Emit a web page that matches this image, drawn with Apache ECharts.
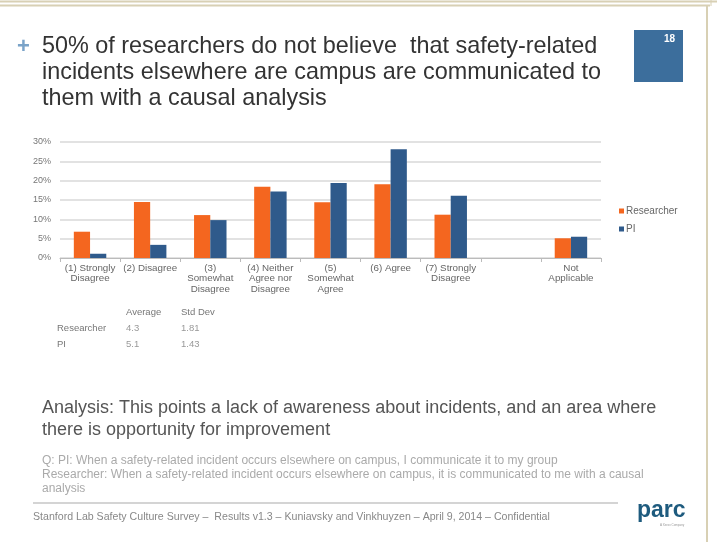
<!DOCTYPE html>
<html><head><meta charset="utf-8">
<script src="https://cdn.jsdelivr.net/npm/echarts@6/dist/echarts.min.js"></script>
<style>html,body{margin:0;padding:0;background:#fff;}#c{width:717px;height:542px;}</style>
</head><body><div id="c"></div>
<script>
var categories = ["(1) Strongly\nDisagree", "(2) Disagree", "(3)\nSomewhat\nDisagree", "(4) Neither\nAgree nor\nDisagree", "(5)\nSomewhat\nAgree", "(6) Agree", "(7) Strongly\nDisagree", "", "Not\nApplicable"];
var researcher = [6.8, 14.5, 11.1, 18.4, 14.4, 19.1, 11.2, null, 5.1];
var pi = [1.1, 3.4, 9.8, 17.2, 19.4, 28.1, 16.1, null, 5.5];
var yTicks = [0, 5, 10, 15, 20, 25, 30];
var statsHeader = ["Average", "Std Dev"];
var statsRows = [["Researcher", "4.3", "1.81"], ["PI", "5.1", "1.43"]];

var chart = echarts.init(document.getElementById('c'));
var font = 'Liberation Sans, Arial, sans-serif';
var gfx = [
  {type:'line', shape:{x1:0,y1:1.5,x2:717,y2:1.5}, style:{stroke:'#d8d0b4', lineWidth:2}},
  {type:'line', shape:{x1:0,y1:5.5,x2:710,y2:5.5}, style:{stroke:'#d8d0b4', lineWidth:2}},
  {type:'line', shape:{x1:707,y1:5,x2:707,y2:542}, style:{stroke:'#d8d0b4', lineWidth:2}},
  {type:'line', shape:{x1:711,y1:0,x2:711,y2:6}, style:{stroke:'#d8d0b4', lineWidth:1}},
  {type:'text', left:17, top:36, style:{text:'+', font:'bold 22px '+font, fill:'#7aa3c8'}},
  {type:'text', left:42, top:34, style:{text:'50% of researchers do not believe  that safety-related\nincidents elsewhere are campus are communicated to\nthem with a causal analysis', font:'23.4px '+font, lineHeight:26, fill:'#333'}},
  {type:'rect', shape:{x:634,y:30,width:49,height:52}, style:{fill:'#3c6e9c'}},
  {type:'text', left:664, top:34, style:{text:'18', font:'bold 10px '+font, fill:'#fff'}},
  {type:'text', left:126, top:307, style:{text:statsHeader[0], font:'9.5px '+font, fill:'#777'}},
  {type:'text', left:181, top:307, style:{text:statsHeader[1], font:'9.5px '+font, fill:'#777'}},
  {type:'text', left:42, top:397, style:{text:'Analysis: This points a lack of awareness about incidents, and an area where\nthere is opportunity for improvement', font:'18px '+font, lineHeight:22, fill:'#555'}},
  {type:'text', left:42, top:454, style:{text:'Q: PI: When a safety-related incident occurs elsewhere on campus, I communicate it to my group\nResearcher: When a safety-related incident occurs elsewhere on campus, it is communicated to me with a causal\nanalysis', font:'12px '+font, lineHeight:14, fill:'#aaa'}},
  {type:'line', shape:{x1:33,y1:503,x2:618,y2:503}, style:{stroke:'#aaa', lineWidth:1.2}},
  {type:'text', left:33, top:512, style:{text:'Stanford Lab Safety Culture Survey \u2013  Results v1.3 \u2013 Kuniavsky and Vinkhuyzen \u2013 April 9, 2014 \u2013 Confidential', font:'10.6px '+font, fill:'#888'}},
  {type:'text', left:637, top:499, style:{text:'parc', font:'bold 23px '+font, fill:'#1e5b7e'}},
  {type:'text', left:660, top:524, style:{text:'A Xerox Company', font:'3px '+font, fill:'#999'}}
];
statsRows.forEach(function(r, i){
  var y = 323 + i*16;
  gfx.push({type:'text', left:57, top:y, style:{text:r[0], font:'9.5px '+font, fill:'#777'}});
  gfx.push({type:'text', left:126, top:y, style:{text:r[1], font:'9.5px '+font, fill:'#999'}});
  gfx.push({type:'text', left:181, top:y, style:{text:r[2], font:'9.5px '+font, fill:'#999'}});
});

chart.setOption({
  animation:false,
  backgroundColor:'#fff',
  grid:{left:60, right:116, top:142, bottom:284, containLabel:false},
  legend:{orient:'vertical', left:614, top:201, itemWidth:5, itemHeight:5, itemGap:8,
    icon:'rect', textStyle:{fontSize:10, color:'#666', fontFamily:font, padding:[0,0,0,-3]},
    data:['Researcher','PI']},
  xAxis:{type:'category', data:categories,
    axisLine:{lineStyle:{color:'#bbb'}},
    axisTick:{show:true, length:4, lineStyle:{color:'#bbb'}},
    axisLabel:{interval:0, fontSize:9.8, color:'#666', fontFamily:font, lineHeight:10.5, margin:5}},
  yAxis:{type:'value', min:0, max:30, interval:5,
    axisLabel:{formatter:function(v){return v+'%';}, fontSize:9, color:'#777', fontFamily:font, margin:9},
    splitLine:{lineStyle:{color:'#d8d8d8', width:1.5}},
    axisLine:{show:false}, axisTick:{show:false}},
  series:[
    {name:'Researcher', type:'bar', data:researcher, barGap:'0%', barCategoryGap:'46%', itemStyle:{color:'#f4661f'}},
    {name:'PI', type:'bar', data:pi, itemStyle:{color:'#2f5a8b'}}
  ],
  graphic:gfx
});
</script></body></html>
